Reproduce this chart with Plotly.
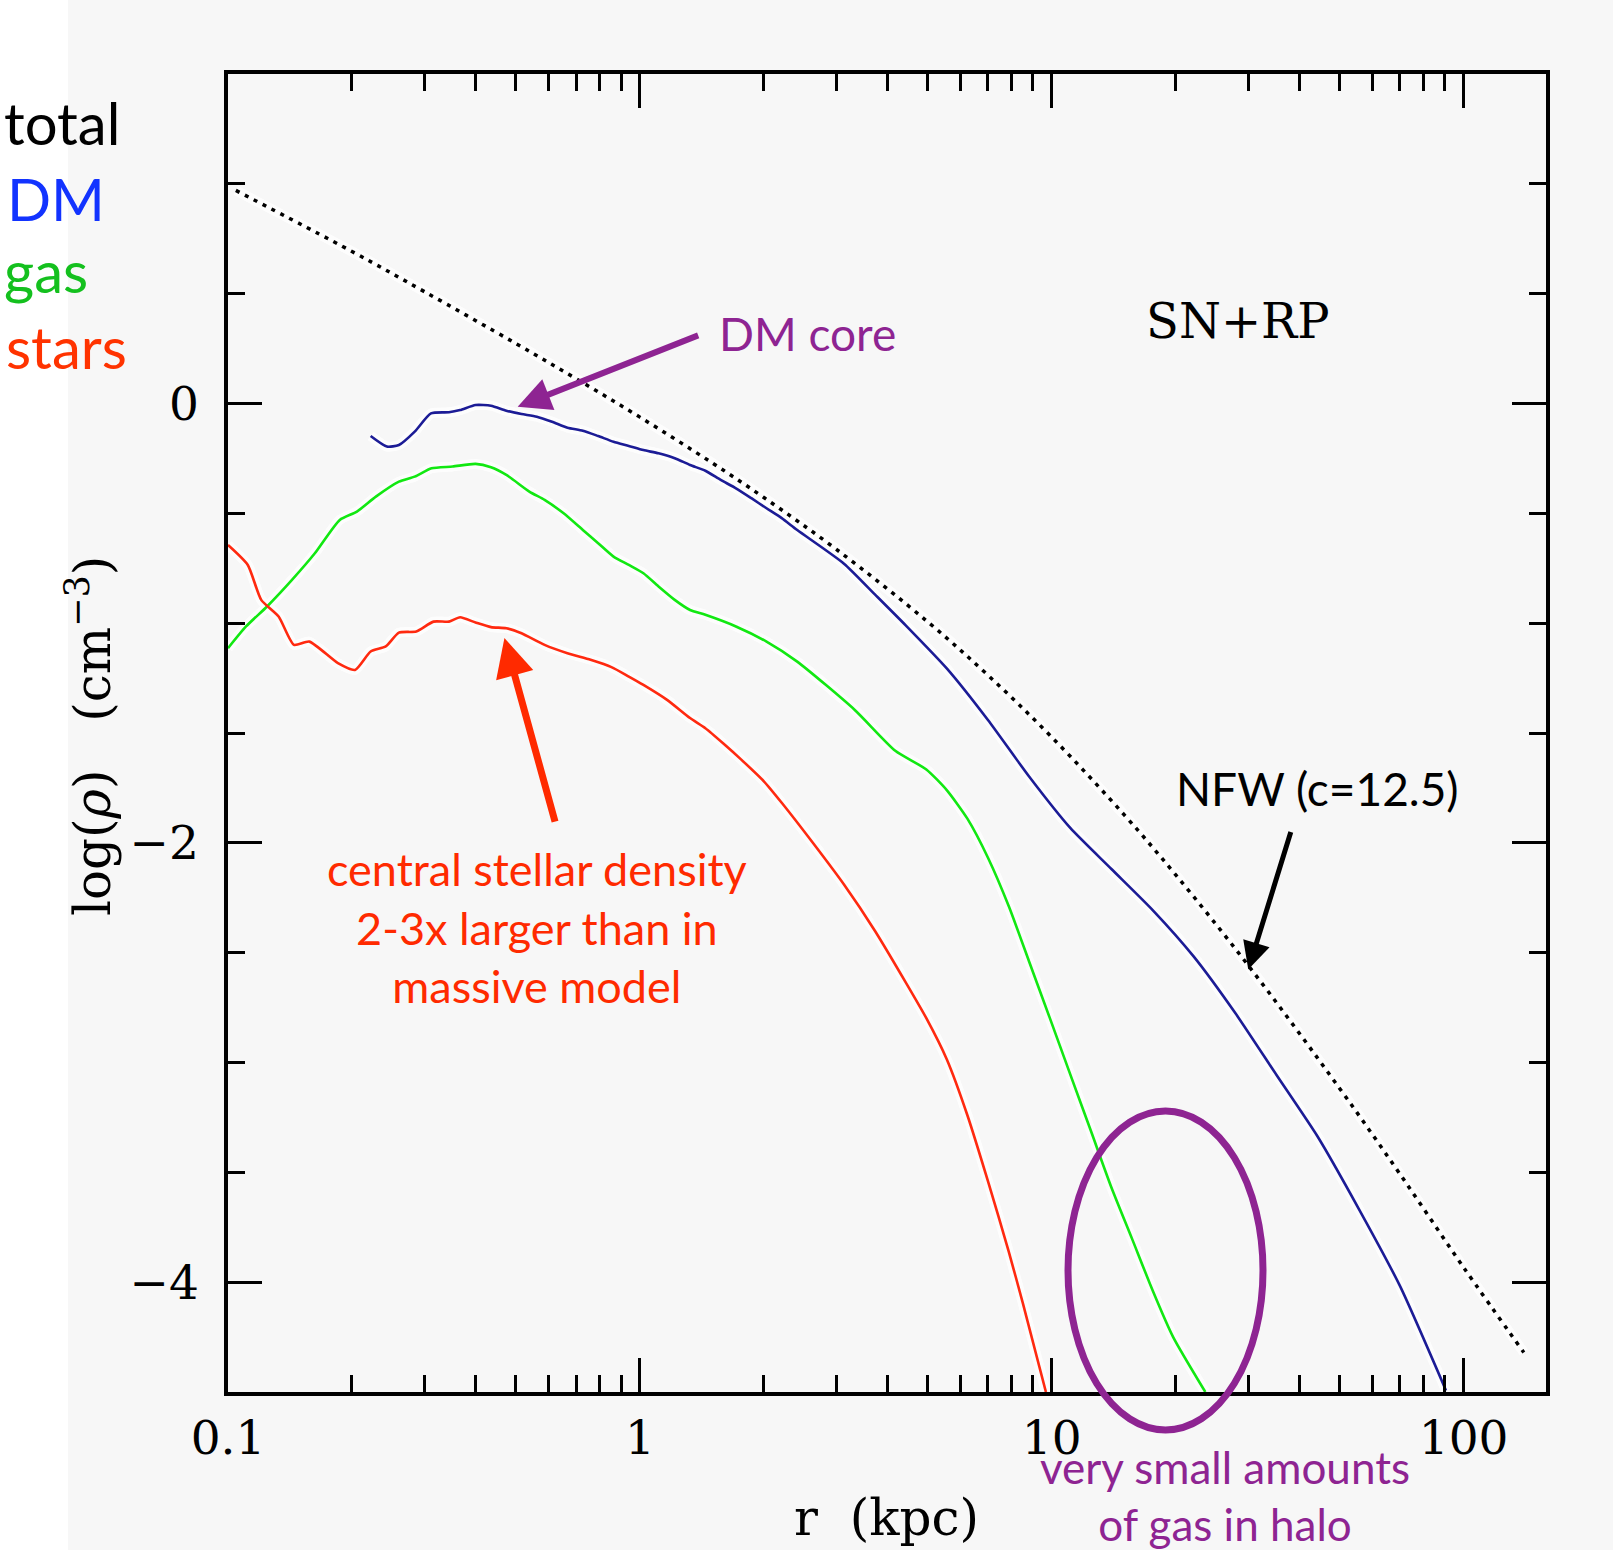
import plotly.graph_objects as go
import math

# ---------------- data ----------------
nfw_r = [0.1045, 0.2, 0.3, 0.5, 0.7, 1.0, 1.5, 2.0, 3.0, 5.0, 7.0, 10.0, 15.0, 20.0, 30.0, 50.0, 70.0, 100.0, 140.0]
nfw_logrho = [0.97, 0.692, 0.509, 0.273, 0.113, -0.062, -0.271, -0.428, -0.664, -0.994, -1.237, -1.519, -1.873, -2.146, -2.558, -3.118, -3.507, -3.933, -4.32]

dm_r = [0.222, 0.243, 0.260, 0.284, 0.311, 0.344, 0.366, 0.399, 0.435, 0.474, 0.516, 0.562, 0.612, 0.667,
        0.727, 0.792, 0.863, 0.940, 1.02, 1.11, 1.215, 1.324, 1.442, 1.571, 1.711, 1.865, 2.03, 2.21, 2.41,
        3.13, 3.72, 4.42, 5.56, 7.00, 8.81, 11.09, 13.96, 17.58, 22.1, 27.9, 35.1, 44.2, 55.6, 70.0, 90.6]
dm_logrho = [-0.148, -0.196, -0.189, -0.128, -0.045, -0.040, -0.030, -0.007, -0.010, -0.033, -0.048, -0.060,
             -0.083, -0.110, -0.124, -0.148, -0.174, -0.193, -0.212, -0.227, -0.249, -0.280, -0.306, -0.348,
             -0.386, -0.431, -0.477, -0.522, -0.576, -0.729, -0.869, -1.010, -1.206, -1.441, -1.698, -1.932,
             -2.119, -2.306, -2.517, -2.775, -3.056, -3.337, -3.665, -4.016, -4.493]

gas_r = [0.1, 0.1106, 0.1244, 0.143, 0.1625, 0.1868, 0.2056, 0.2286, 0.260, 0.284, 0.312, 0.351, 0.399, 0.435,
         0.474, 0.539, 0.587, 0.653, 0.727, 0.792, 0.863, 0.940, 1.02, 1.11, 1.215, 1.324, 1.442, 1.711, 2.03,
         2.41, 3.32, 4.17, 4.96, 5.56, 6.24, 7.01, 7.87, 8.81, 9.89, 11.09, 12.45, 13.96, 15.67, 17.58, 19.7, 23.6]
gas_logrho = [-1.114, -1.015, -0.924, -0.803, -0.682, -0.530, -0.492, -0.424, -0.356, -0.333, -0.295, -0.287,
              -0.275, -0.290, -0.325, -0.401, -0.439, -0.500, -0.576, -0.636, -0.697, -0.735, -0.773, -0.833,
              -0.894, -0.940, -0.962, -1.015, -1.084, -1.175, -1.394, -1.581, -1.666, -1.760, -1.890, -2.070,
              -2.290, -2.540, -2.797, -3.054, -3.312, -3.569, -3.803, -4.038, -4.249, -4.5]

stars_r = [0.1, 0.1117, 0.1204, 0.1327, 0.1446, 0.1575, 0.1849, 0.2034, 0.222, 0.2415, 0.260, 0.2865, 0.3155,
           0.344, 0.366, 0.399, 0.435, 0.474, 0.516, 0.587, 0.667, 0.759, 0.853, 0.940, 1.02, 1.164, 1.324,
           1.442, 1.6, 1.76, 2.0, 2.215, 2.63, 3.13, 3.72, 4.42, 4.96, 5.56, 6.24, 7.00, 7.86, 8.52, 9.68]
stars_logrho = [-0.644, -0.735, -0.894, -0.970, -1.099, -1.084, -1.182, -1.213, -1.129, -1.106, -1.043, -1.038,
                -0.993, -0.993, -0.973, -0.997, -1.018, -1.023, -1.046, -1.099, -1.137, -1.167, -1.200, -1.243,
                -1.281, -1.349, -1.432, -1.478, -1.55, -1.62, -1.72, -1.82, -2.00, -2.19, -2.40, -2.635, -2.798,
                -2.985, -3.24, -3.54, -3.86, -4.10, -4.5]

x_major = [0.1, 1, 10, 100]
x_major_text = ["0.1", "1", "10", "100"]
x_minor = [m * d for d in (0.1, 1, 10, 100) for m in range(2, 10) if m * d < 158]
y_major = [0, -2, -4]
y_major_text = ["0", "\u22122", "\u22124"]
y_minor = [v / 2 for v in range(-9, 4) if (v / 2) not in (0, -2, -4)]

# ---------------- styling ----------------
BG = "#f7f7f7"
PURPLE = "#8e2492"
RED_TXT = "#ff2a00"
SANS = "Lato"
SERIF = "DejaVu Serif"

fig = go.Figure()

def halo(x, y, shape="spline"):
    fig.add_trace(go.Scatter(x=x, y=y, mode="lines", line=dict(color="white", width=10, shape=shape, smoothing=0.6),
                             opacity=0.85, hoverinfo="skip", showlegend=False))

for xs, ys in [(nfw_r, nfw_logrho), (dm_r, dm_logrho), (gas_r, gas_logrho), (stars_r, stars_logrho)]:
    halo(xs, ys)

fig.add_trace(go.Scatter(x=nfw_r, y=nfw_logrho, mode="lines", name="NFW",
                         line=dict(color="black", width=3.5, dash="4px,6px", shape="spline"), showlegend=False))
fig.add_trace(go.Scatter(x=dm_r, y=dm_logrho, mode="lines", name="DM",
                         line=dict(color="#1c1c96", width=2.6, shape="spline", smoothing=0.6), showlegend=False))
fig.add_trace(go.Scatter(x=gas_r, y=gas_logrho, mode="lines", name="gas",
                         line=dict(color="#12e812", width=2.6, shape="spline", smoothing=0.6), showlegend=False))
fig.add_trace(go.Scatter(x=stars_r, y=stars_logrho, mode="lines", name="stars",
                         line=dict(color="#ff2a10", width=2.6, shape="spline", smoothing=0.6), showlegend=False))

axis_common = dict(showline=True, linewidth=3.5, linecolor="black", mirror="ticks",
                   ticks="inside", ticklen=34, tickwidth=2.5, tickcolor="black",
                   showgrid=False, zeroline=False,
                   tickfont=dict(family=SERIF, size=47, color="black"))

fig.update_xaxes(type="log", range=[-1, 2.2], tickmode="array", tickvals=x_major, ticktext=x_major_text,
                 minor=dict(ticks="inside", ticklen=17, tickwidth=2.5, tickcolor="black",
                            tickmode="array", tickvals=x_minor, showgrid=False),
                 ticklabelstandoff=2, **axis_common)
fig.update_yaxes(range=[-4.5, 1.5], tickmode="array", tickvals=y_major, ticktext=y_major_text,
                 minor=dict(ticks="inside", ticklen=17, tickwidth=2.5, tickcolor="black",
                            tickmode="array", tickvals=y_minor, showgrid=False),
                 ticklabelstandoff=16, **axis_common)

W, H = 1613, 1550
L, R, T, B = 228, 67, 74, 158
PW, PH = W - L - R, H - T - B

def px(X):
    return (X - L) / PW

def py(Y):
    return (H - B - Y) / PH

ann = []
def text(t, X, Y, size, color, family=SANS, xanchor="center", angle=0):
    ann.append(dict(text=t, x=px(X), y=py(Y), xref="paper", yref="paper", showarrow=False,
                    xanchor=xanchor, yanchor="middle", textangle=angle,
                    font=dict(family=family, size=size, color=color)))

text("total", 2, 123, 58, "black", xanchor="left")
text("DM", 5, 198, 58, "#1233ff", xanchor="left")
text("gas", 2, 271, 58, "#14c01e", xanchor="left")
text("stars", 4, 346, 58, "#ff3300", xanchor="left")

text("SN+RP", 1238, 321, 48, "black", family=SERIF)
text("DM core", 807, 333, 46, PURPLE)
text("NFW (c=12.5)", 1317, 789, 46, "black")
text("central stellar density<br>2-3x larger than in<br>massive model", 537, 928, 45, RED_TXT)
text("very small amounts<br>of gas in halo", 1225, 1495, 44, PURPLE)
text("r\u00a0\u00a0(kpc)", 886, 1518, 50, "black", family=SERIF)
text("log(<i>\u03c1</i>)\u00a0\u00a0\u00a0(cm<sup>\u22123</sup>)", 89, 736, 50, "black", family=SERIF, angle=-90)

def arrow(tip_r, tip_y, ax, ay, color, width, size=1.1):
    ann.append(dict(x=math.log10(tip_r), y=tip_y, xref="x", yref="y", ax=ax, ay=ay,
                    axref="pixel", ayref="pixel", text="", showarrow=True,
                    arrowhead=2, arrowsize=size, arrowwidth=width, arrowcolor=color))

arrow(0.505, -0.015, 182, -72, PURPLE, 6)
arrow(0.469, -1.068, 51, 185, "#ff2a00", 7)
arrow(30.0, -2.577, 43, -139, "black", 5)

shapes = [
    dict(type="rect", xref="paper", yref="paper", x0=px(-5), x1=px(68), y0=py(H + 5), y1=py(-5),
         fillcolor="white", line=dict(width=0), layer="below"),
    dict(type="circle", xref="paper", yref="paper", x0=px(1068), x1=px(1263), y0=py(1430), y1=py(1111),
         line=dict(color=PURPLE, width=7)),
]

fig.update_layout(width=W, height=H, margin=dict(l=L, r=R, t=T, b=B, pad=0),
                  paper_bgcolor=BG, plot_bgcolor=BG, annotations=ann, shapes=shapes, showlegend=False)

fig.write_html("out.html")
